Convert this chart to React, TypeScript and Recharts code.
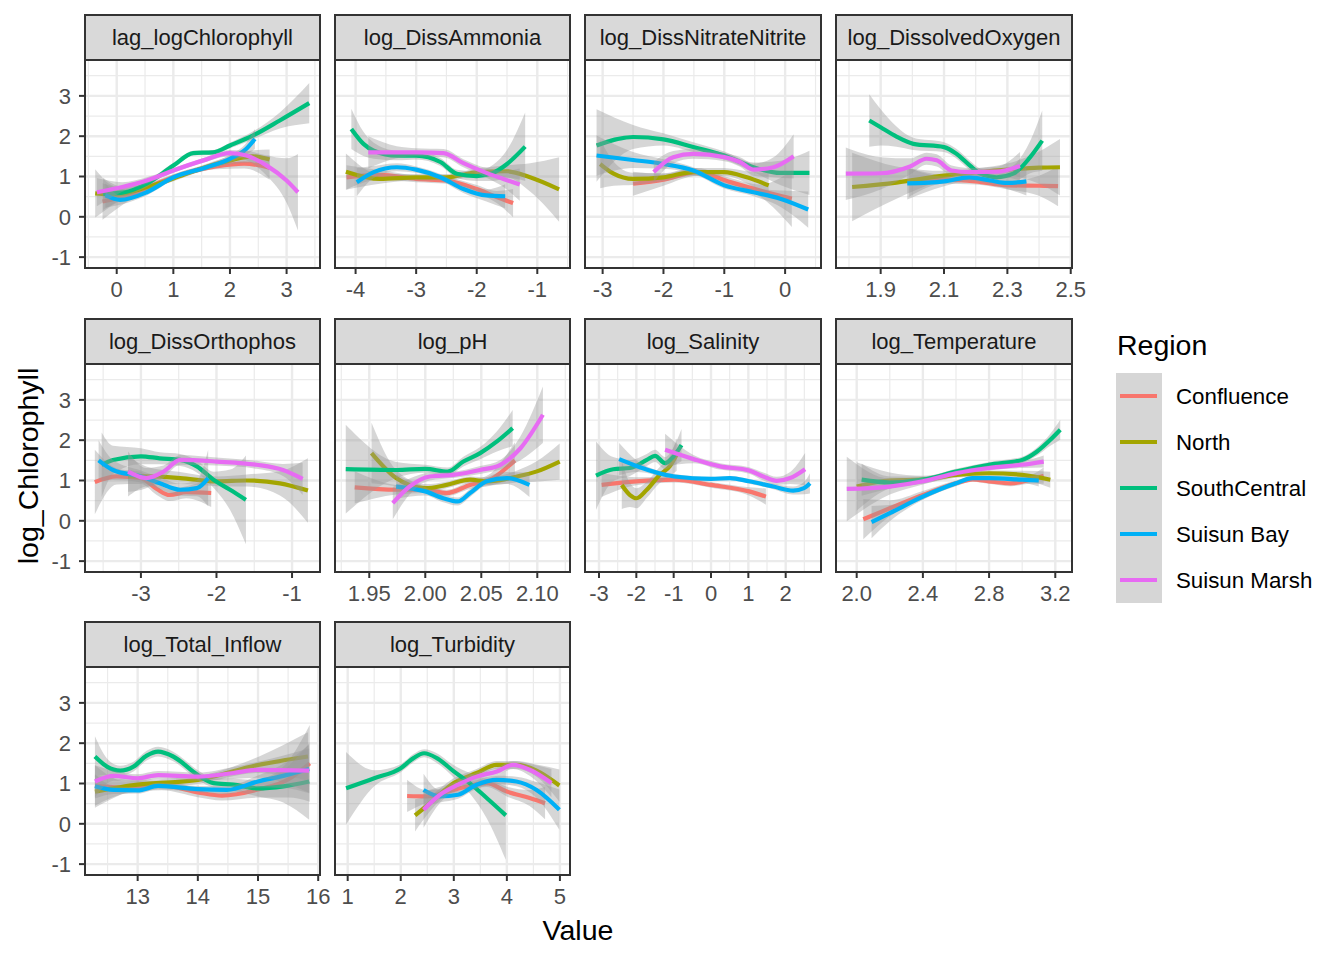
import React from "react";
import { Area, CartesianGrid, ComposedChart, Line, XAxis, YAxis } from "recharts";

// [x, fitted value, half-width of the confidence band]
type Pt = [number, number, number];
type Curves = Pt[][];

const regions = ["Confluence", "North", "SouthCentral", "Suisun Bay", "Suisun Marsh"];
const regionColors = ["#F8766D", "#A3A500", "#00BF7D", "#00B0F6", "#E76BF3"];

const yTicks = [-1, 0, 1, 2, 3];
const yMinor = [-0.5, 0.5, 1.5, 2.5, 3.5];

// curves are in region order: Confluence, North, SouthCentral, Suisun Bay, Suisun Marsh
const lagChl: Curves = [
  [[-0.25, 0.38, 0.45], [0.25, 0.55, 0.12], [0.75, 0.85, 0.08], [1.25, 1.1, 0.07], [1.75, 1.25, 0.07], [2.25, 1.32, 0.12], [2.7, 1.22, 0.3]],
  [[-0.38, 0.58, 0.6], [0, 0.55, 0.2], [0.5, 0.72, 0.08], [1, 0.95, 0.07], [1.5, 1.2, 0.07], [2, 1.4, 0.1], [2.4, 1.5, 0.15], [2.7, 1.42, 0.25]],
  [[-0.24, 0.57, 0.4], [0.1, 0.6, 0.15], [0.53, 0.82, 0.08], [1, 1.27, 0.07], [1.35, 1.58, 0.06], [1.7, 1.6, 0.06], [2, 1.77, 0.07], [2.41, 2.02, 0.1], [2.88, 2.39, 0.2], [3.4, 2.82, 0.5]],
  [[-0.2, 0.53, 0.3], [0.06, 0.42, 0.12], [0.53, 0.61, 0.08], [1, 0.98, 0.07], [1.59, 1.23, 0.07], [2, 1.44, 0.1], [2.29, 1.69, 0.15], [2.44, 1.93, 0.25]],
  [[-0.35, 0.61, 0.35], [0.1, 0.74, 0.12], [0.53, 0.9, 0.08], [1, 1.15, 0.06], [1.53, 1.4, 0.06], [2, 1.58, 0.08], [2.29, 1.52, 0.12], [2.65, 1.27, 0.25], [3, 0.9, 0.55], [3.2, 0.61, 0.95]],
];

const ammonia: Curves = [
  [[-4.15, 0.98, 0.3], [-3.6, 1.04, 0.12], [-3, 0.94, 0.08], [-2.5, 0.9, 0.08], [-2, 0.69, 0.1], [-1.67, 0.49, 0.15], [-1.4, 0.34, 0.35]],
  [[-4.16, 1.12, 0.45], [-3.6, 0.94, 0.12], [-3, 0.98, 0.08], [-2.5, 0.98, 0.08], [-2, 1.1, 0.1], [-1.5, 1.13, 0.15], [-1.12, 0.98, 0.35], [-0.64, 0.68, 0.8]],
  [[-4.07, 2.18, 0.5], [-3.87, 1.81, 0.3], [-3.7, 1.64, 0.2], [-3.32, 1.52, 0.12], [-3, 1.52, 0.1], [-2.6, 1.36, 0.1], [-2.33, 1.07, 0.1], [-2, 1.01, 0.12], [-1.73, 1.09, 0.2], [-1.5, 1.31, 0.35], [-1.2, 1.74, 0.85]],
  [[-3.98, 0.86, 0.35], [-3.7, 1.11, 0.15], [-3.32, 1.23, 0.1], [-3, 1.17, 0.08], [-2.6, 0.98, 0.08], [-2.22, 0.69, 0.1], [-1.84, 0.53, 0.15], [-1.53, 0.51, 0.3]],
  [[-3.79, 1.6, 0.4], [-3.32, 1.6, 0.15], [-3, 1.6, 0.1], [-2.55, 1.58, 0.1], [-2.22, 1.33, 0.1], [-1.84, 1.09, 0.12], [-1.56, 0.94, 0.2], [-1.29, 0.8, 0.4]],
];

const nitrate: Curves = [
  [[-2.5, 0.82, 0.3], [-2, 0.92, 0.15], [-1.45, 1.11, 0.1], [-0.9, 0.86, 0.1], [-0.41, 0.65, 0.15], [0.11, 0.45, 0.7]],
  [[-3.04, 1.31, 0.6], [-2.82, 1.07, 0.3], [-2.5, 0.94, 0.15], [-2, 0.98, 0.1], [-1.51, 1.11, 0.1], [-1, 1.11, 0.1], [-0.63, 0.98, 0.15], [-0.27, 0.78, 0.3]],
  [[-3.1, 1.77, 0.9], [-2.5, 1.98, 0.3], [-2, 1.92, 0.15], [-1.51, 1.73, 0.12], [-1, 1.52, 0.1], [-0.52, 1.23, 0.12], [-0.08, 1.09, 0.3], [0.4, 1.09, 0.55]],
  [[-3.1, 1.52, 0.5], [-2.5, 1.41, 0.2], [-2, 1.31, 0.12], [-1.51, 1.15, 0.08], [-1, 0.78, 0.08], [-0.52, 0.61, 0.1], [-0.08, 0.45, 0.2], [0.38, 0.18, 0.45]],
  [[-2.16, 1.11, 0.25], [-1.84, 1.48, 0.15], [-1.51, 1.56, 0.12], [-1, 1.48, 0.1], [-0.74, 1.36, 0.12], [-0.52, 1.17, 0.15], [-0.19, 1.23, 0.25], [0.14, 1.5, 0.55]],
];

const oxygen: Curves = [
  [[1.99, 0.85, 0.35], [2.1, 0.92, 0.1], [2.2, 0.88, 0.08], [2.3, 0.78, 0.1], [2.4, 0.77, 0.25], [2.46, 0.76, 0.5]],
  [[1.81, 0.74, 0.85], [1.95, 0.85, 0.4], [2.1, 1.02, 0.12], [2.2, 1.1, 0.1], [2.3, 1.17, 0.15], [2.4, 1.22, 0.4], [2.466, 1.23, 0.7]],
  [[1.864, 2.39, 0.65], [1.9, 2.22, 0.45], [1.95, 1.99, 0.25], [2.003, 1.81, 0.15], [2.1, 1.73, 0.12], [2.14, 1.56, 0.12], [2.182, 1.27, 0.12], [2.214, 1.07, 0.12], [2.266, 0.98, 0.12], [2.319, 1.07, 0.2], [2.372, 1.48, 0.4], [2.41, 1.89, 0.75]],
  [[1.984, 0.83, 0.4], [2.1, 0.88, 0.12], [2.18, 0.98, 0.1], [2.245, 0.9, 0.1], [2.3, 0.84, 0.15], [2.36, 0.88, 0.35]],
  [[1.79, 1.07, 0.65], [1.9, 1.08, 0.4], [1.993, 1.25, 0.2], [2.045, 1.44, 0.15], [2.077, 1.4, 0.15], [2.124, 1.15, 0.12], [2.18, 1.11, 0.1], [2.266, 1.12, 0.12], [2.34, 1.26, 0.35]],
];

const orthophos: Curves = [
  [[-3.61, 0.96, 0.8], [-3.32, 1.1, 0.2], [-3, 1.06, 0.15], [-2.79, 0.79, 0.15], [-2.62, 0.64, 0.15], [-2.4, 0.71, 0.15], [-2.07, 0.69, 0.35]],
  [[-3.17, 1.1, 0.5], [-2.93, 1.1, 0.25], [-2.48, 1.06, 0.15], [-2, 0.98, 0.12], [-1.6, 1.0, 0.15], [-1.16, 0.93, 0.3], [-0.79, 0.75, 0.8]],
  [[-3.52, 1.39, 0.8], [-3.37, 1.51, 0.35], [-3, 1.6, 0.2], [-2.75, 1.55, 0.15], [-2.48, 1.51, 0.15], [-2.26, 1.35, 0.15], [-2.04, 1.02, 0.2], [-1.82, 0.77, 0.5], [-1.61, 0.52, 1.1]],
  [[-3.56, 1.5, 0.5], [-3.37, 1.26, 0.25], [-3, 1.1, 0.15], [-2.75, 0.93, 0.15], [-2.48, 0.77, 0.15], [-2.26, 0.81, 0.2], [-2.11, 1.06, 0.7]],
  [[-3.17, 1.22, 0.5], [-2.93, 1.06, 0.25], [-2.7, 1.22, 0.15], [-2.48, 1.51, 0.12], [-2, 1.47, 0.1], [-1.47, 1.39, 0.1], [-1.12, 1.26, 0.15], [-0.86, 1.04, 0.4]],
];

const ph: Curves = [
  [[1.937, 0.83, 0.4], [1.974, 0.77, 0.12], [2.0, 0.77, 0.08], [2.019, 0.69, 0.08], [2.04, 0.89, 0.1], [2.058, 1.02, 0.15], [2.08, 1.5, 0.45]],
  [[1.952, 1.68, 0.75], [1.974, 1.06, 0.2], [2.0, 0.81, 0.1], [2.019, 0.89, 0.08], [2.04, 1.02, 0.08], [2.055, 0.98, 0.1], [2.082, 1.1, 0.15], [2.099, 1.22, 0.25], [2.12, 1.47, 0.45]],
  [[1.929, 1.28, 1.1], [1.974, 1.26, 0.2], [2.0, 1.29, 0.1], [2.02, 1.22, 0.1], [2.034, 1.47, 0.12], [2.049, 1.68, 0.15], [2.064, 1.97, 0.25], [2.078, 2.3, 0.45]],
  [[1.974, 0.85, 0.3], [2.0, 0.73, 0.1], [2.016, 0.56, 0.1], [2.029, 0.48, 0.1], [2.04, 0.69, 0.1], [2.055, 0.98, 0.1], [2.073, 1.06, 0.15], [2.093, 0.89, 0.3]],
  [[1.971, 0.44, 0.4], [1.986, 0.85, 0.2], [2.004, 1.1, 0.1], [2.025, 1.14, 0.08], [2.049, 1.26, 0.1], [2.067, 1.39, 0.12], [2.085, 1.8, 0.3], [2.105, 2.63, 0.7]],
];

const salinity: Curves = [
  [[-2.93, 0.89, 0.3], [-2, 0.98, 0.1], [-0.98, 1.02, 0.07], [0, 0.89, 0.07], [1.02, 0.73, 0.1], [1.47, 0.6, 0.2]],
  [[-2.39, 0.89, 0.6], [-2.17, 0.64, 0.3], [-1.99, 0.56, 0.25], [-1.72, 0.77, 0.2], [-1.37, 1.14, 0.2], [-1.1, 1.36, 0.25], [-0.92, 1.64, 0.4]],
  [[-3.08, 1.12, 0.85], [-2.62, 1.28, 0.3], [-2.17, 1.31, 0.2], [-1.72, 1.51, 0.15], [-1.5, 1.61, 0.15], [-1.23, 1.43, 0.15], [-1.05, 1.55, 0.2], [-0.79, 1.88, 0.4]],
  [[-2.46, 1.53, 0.4], [-2, 1.36, 0.15], [-0.98, 1.1, 0.06], [0, 1.04, 0.05], [0.51, 1.06, 0.05], [1.02, 0.98, 0.06], [1.67, 0.85, 0.07], [2.2, 0.75, 0.1], [2.49, 0.81, 0.15], [2.65, 0.93, 0.25]],
  [[-1.23, 1.76, 0.4], [-0.47, 1.53, 0.1], [0.24, 1.35, 0.08], [1.02, 1.25, 0.08], [1.4, 1.1, 0.1], [1.76, 0.99, 0.1], [2.12, 1.06, 0.15], [2.52, 1.28, 0.4]],
];

const temperature: Curves = [
  [[2.04, 0.04, 0.5], [2.2, 0.31, 0.2], [2.4, 0.64, 0.1], [2.6, 0.93, 0.07], [2.7, 1.03, 0.06], [2.8, 0.98, 0.06], [2.93, 0.93, 0.07], [3.05, 1.02, 0.1], [3.13, 1.12, 0.2]],
  [[2.0, 0.85, 0.6], [2.2, 1.0, 0.2], [2.4, 1.02, 0.1], [2.6, 1.14, 0.07], [2.8, 1.18, 0.07], [3.0, 1.14, 0.1], [3.17, 1.02, 0.2]],
  [[2.03, 1.02, 0.4], [2.2, 0.95, 0.15], [2.4, 1.02, 0.08], [2.6, 1.22, 0.07], [2.8, 1.39, 0.07], [3.0, 1.51, 0.08], [3.09, 1.72, 0.1], [3.17, 2.01, 0.15], [3.23, 2.26, 0.25]],
  [[2.09, -0.03, 0.4], [2.2, 0.19, 0.2], [2.4, 0.6, 0.08], [2.6, 0.93, 0.06], [2.7, 1.06, 0.05], [2.8, 1.06, 0.05], [3.0, 1.02, 0.07], [3.1, 1.0, 0.15]],
  [[1.94, 0.79, 0.8], [2.2, 0.85, 0.2], [2.4, 0.98, 0.08], [2.6, 1.18, 0.06], [2.8, 1.31, 0.06], [3.0, 1.39, 0.08], [3.13, 1.47, 0.15]],
];

const inflow: Curves = [
  [[12.29, 0.95, 0.5], [12.8, 0.9, 0.15], [13.4, 0.95, 0.12], [14, 0.78, 0.12], [14.4, 0.7, 0.12], [15, 0.85, 0.2], [15.5, 1.1, 0.45], [15.86, 1.5, 0.95]],
  [[12.29, 0.8, 0.4], [13, 0.97, 0.12], [14, 1.09, 0.1], [15, 1.46, 0.2], [15.83, 1.67, 0.6]],
  [[12.29, 1.67, 0.5], [12.49, 1.42, 0.2], [12.71, 1.32, 0.12], [12.93, 1.42, 0.12], [13.15, 1.69, 0.12], [13.34, 1.79, 0.12], [13.59, 1.67, 0.12], [14, 1.21, 0.12], [14.26, 1.01, 0.12], [14.59, 0.97, 0.15], [15, 0.88, 0.2], [15.42, 0.93, 0.4], [15.85, 1.05, 0.95]],
  [[12.29, 0.93, 0.3], [12.6, 0.84, 0.1], [13, 0.83, 0.08], [13.34, 0.94, 0.08], [14, 0.86, 0.08], [14.48, 0.84, 0.1], [15, 1.05, 0.15], [15.42, 1.19, 0.3], [15.85, 1.36, 0.6]],
  [[12.29, 1.05, 0.4], [12.6, 1.19, 0.12], [13, 1.13, 0.1], [13.34, 1.21, 0.1], [14, 1.17, 0.1], [14.59, 1.26, 0.15], [15, 1.34, 0.2], [15.85, 1.32, 0.55]],
];

const turbidity: Curves = [
  [[2.12, 0.69, 0.4], [2.49, 0.68, 0.15], [3, 0.84, 0.1], [3.62, 1.01, 0.1], [4, 0.8, 0.12], [4.43, 0.64, 0.2], [4.72, 0.51, 0.4]],
  [[2.27, 0.21, 0.4], [2.55, 0.51, 0.2], [3, 1.01, 0.12], [3.43, 1.26, 0.1], [3.81, 1.46, 0.1], [4.18, 1.46, 0.1], [4.56, 1.32, 0.15], [4.99, 0.95, 0.4]],
  [[0.97, 0.88, 0.9], [1.5, 1.13, 0.2], [2, 1.38, 0.1], [2.24, 1.63, 0.1], [2.44, 1.75, 0.1], [2.68, 1.63, 0.12], [3, 1.3, 0.15], [3.3, 1.01, 0.25], [3.62, 0.64, 0.5], [3.98, 0.21, 1.1]],
  [[2.43, 0.84, 0.4], [2.74, 0.68, 0.15], [3.08, 0.72, 0.1], [3.43, 0.97, 0.1], [3.81, 1.09, 0.1], [4.18, 1.05, 0.12], [4.56, 0.84, 0.2], [4.99, 0.35, 0.5]],
  [[2.43, 0.35, 0.45], [2.74, 0.72, 0.2], [3.08, 0.97, 0.1], [3.43, 1.17, 0.1], [3.81, 1.3, 0.1], [4.12, 1.46, 0.1], [4.43, 1.34, 0.15], [4.84, 1.01, 0.35]],
];

type Facet = {
  title: string;
  curves: Curves;
  domain: [number, number];
  ticks: number[];
  minor: number[];
  digits: number;
};

const facets: Facet[] = [
  { title: "lag_logChlorophyll", curves: lagChl, domain: [-0.56, 3.59], ticks: [0, 1, 2, 3], minor: [-0.5, 0.5, 1.5, 2.5, 3.5], digits: 0 },
  { title: "log_DissAmmonia", curves: ammonia, domain: [-4.34, -0.46], ticks: [-4, -3, -2, -1], minor: [-3.5, -2.5, -1.5, -0.5], digits: 0 },
  { title: "log_DissNitrateNitrite", curves: nitrate, domain: [-3.29, 0.59], ticks: [-3, -2, -1, 0], minor: [-2.5, -1.5, -0.5, 0.5], digits: 0 },
  { title: "log_DissolvedOxygen", curves: oxygen, domain: [1.759, 2.504], ticks: [1.9, 2.1, 2.3, 2.5], minor: [1.8, 2.0, 2.2, 2.4], digits: 1 },
  { title: "log_DissOrthophos", curves: orthophos, domain: [-3.74, -0.63], ticks: [-3, -2, -1], minor: [-3.5, -2.5, -1.5], digits: 0 },
  { title: "log_pH", curves: ph, domain: [1.9194, 2.1292], ticks: [1.95, 2.0, 2.05, 2.1], minor: [1.925, 1.975, 2.025, 2.075, 2.125], digits: 2 },
  { title: "log_Salinity", curves: salinity, domain: [-3.375, 2.946], ticks: [-3, -2, -1, 0, 1, 2], minor: [-2.5, -1.5, -0.5, 0.5, 1.5, 2.5], digits: 0 },
  { title: "log_Temperature", curves: temperature, domain: [1.875, 3.301], ticks: [2.0, 2.4, 2.8, 3.2], minor: [2.2, 2.6, 3.0], digits: 1 },
  { title: "log_Total_Inflow", curves: inflow, domain: [12.125, 16.03], ticks: [13, 14, 15, 16], minor: [12.5, 13.5, 14.5, 15.5], digits: 0 },
  { title: "log_Turbidity", curves: turbidity, domain: [0.761, 5.19], ticks: [1, 2, 3, 4, 5], minor: [1.5, 2.5, 3.5, 4.5], digits: 0 },
];

const font = "'Liberation Sans', Arial, sans-serif";
const colLeft = [85, 335, 585, 836];
const colWidth = [235, 235, 236, 236];
const rowTop = [60, 364, 667];
const plotH = 208;
const stripH = 45;
const axisW = 60;

function Panel({ f, index }: { f: Facet; index: number }) {
  const col = index % 4;
  const row = Math.floor(index / 4);
  const left = colLeft[col];
  const top = rowTop[row];
  const w = colWidth[col];
  const first = col === 0;

  return (
    <>
      <div style={{ position: "absolute", left: left - axisW, top }}>
        <ComposedChart width={axisW + w + 24} height={plotH + 50} margin={{ top: 0, right: 24, bottom: 0, left: 0 }}>
          <CartesianGrid stroke="#EBEBEB" strokeWidth={1.2} horizontalValues={yMinor} verticalValues={f.minor} />
          <CartesianGrid stroke="#EBEBEB" strokeWidth={2.4} horizontalValues={yTicks} verticalValues={f.ticks} />
          <XAxis
            type="number"
            dataKey="x"
            domain={f.domain}
            ticks={f.ticks}
            allowDataOverflow
            height={50}
            axisLine={false}
            tickSize={6}
            tickMargin={7}
            tickLine={{ stroke: "#333333", strokeWidth: 2 }}
            tick={{ fill: "#4D4D4D", fontSize: 22, fontFamily: font }}
            tickFormatter={(v: number) => v.toFixed(f.digits)}
            interval={0}
          />
          <YAxis
            type="number"
            domain={[-1.27, 3.89]}
            ticks={yTicks}
            allowDataOverflow
            width={axisW}
            axisLine={false}
            tickSize={6}
            tickMargin={8}
            tickLine={{ stroke: first ? "#333333" : "transparent", strokeWidth: 2 }}
            tick={{ fill: first ? "#4D4D4D" : "transparent", fontSize: 22, fontFamily: font }}
            interval={0}
          />
          {f.curves.map((pts, i) => {
            const data = pts.map(([x, y, se]) => ({ x, y, band: [y - se, y + se] }));
            return [
              <Area
                key={`a${i}`}
                data={data}
                dataKey="band"
                type="monotone"
                stroke="none"
                fill="#999999"
                fillOpacity={0.4}
                isAnimationActive={false}
                activeDot={false}
                zIndex={100 + i * 2}
              />,
              <Line
                key={`l${i}`}
                data={data}
                dataKey="y"
                type="monotone"
                stroke={regionColors[i]}
                strokeWidth={4.2}
                dot={false}
                activeDot={false}
                isAnimationActive={false}
                zIndex={101 + i * 2}
              />,
            ];
          })}
        </ComposedChart>
      </div>
      <div
        style={{
          position: "absolute",
          left: left - 1,
          top: top - 1,
          width: w + 2,
          height: plotH + 2,
          border: "2px solid #333333",
          boxSizing: "border-box",
          pointerEvents: "none",
        }}
      />
      <div
        style={{
          position: "absolute",
          left: left - 1,
          top: top - stripH - 1,
          width: w + 2,
          height: stripH + 2,
          border: "2px solid #333333",
          boxSizing: "border-box",
          background: "#D9D9D9",
          color: "#1A1A1A",
          fontSize: 22,
          fontFamily: font,
          display: "flex",
          alignItems: "center",
          justifyContent: "center",
          whiteSpace: "nowrap",
        }}
      >
        {f.title}
      </div>
    </>
  );
}

export default function App() {
  return (
    <div style={{ position: "absolute", left: 0, top: 0, width: 1344, height: 960, background: "#FFFFFF", fontFamily: font }}>
      {facets.map((f, i) => (
        <Panel key={f.title} f={f} index={i} />
      ))}
      <div
        style={{
          position: "absolute",
          left: 28,
          top: 466,
          transform: "translate(-50%, -50%) rotate(-90deg)",
          fontSize: 28.5,
          whiteSpace: "nowrap",
          color: "#000000",
        }}
      >
        log_Chlorophyll
      </div>
      <div
        style={{
          position: "absolute",
          left: 578,
          top: 930,
          transform: "translate(-50%, -50%)",
          fontSize: 28.5,
          color: "#000000",
        }}
      >
        Value
      </div>
      <div style={{ position: "absolute", left: 1117, top: 329, fontSize: 28.5, color: "#000000" }}>Region</div>
      <div style={{ position: "absolute", left: 1116, top: 373, width: 46, height: 230, background: "#D6D6D6" }} />
      {regions.map((r, i) => (
        <React.Fragment key={r}>
          <div
            style={{
              position: "absolute",
              left: 1120,
              top: 396 + i * 46 - 2.25,
              width: 37,
              height: 4.5,
              background: regionColors[i],
            }}
          />
          <div
            style={{
              position: "absolute",
              left: 1176,
              top: 397 + i * 46,
              transform: "translateY(-50%)",
              fontSize: 22.3,
              color: "#000000",
              whiteSpace: "nowrap",
            }}
          >
            {r}
          </div>
        </React.Fragment>
      ))}
    </div>
  );
}
